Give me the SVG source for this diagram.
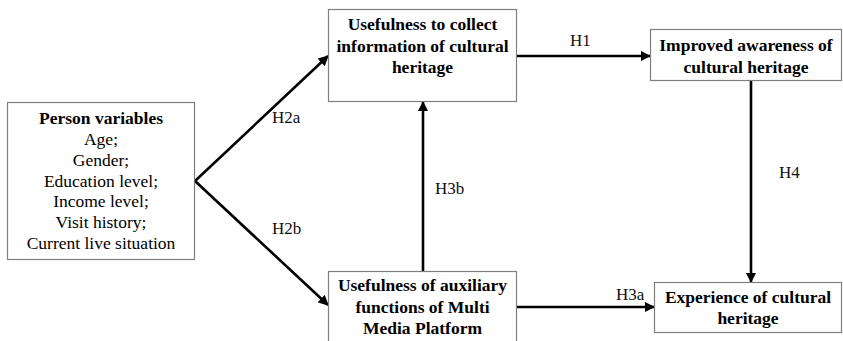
<svg xmlns="http://www.w3.org/2000/svg" width="843" height="341" viewBox="0 0 843 341">
<style>
.box{fill:#fff;stroke:#7f7f7f;stroke-width:1.2}
.t{font-size:17.5px;fill:#000;text-anchor:middle}
.b{font-weight:bold}
.lbl{font-size:17px;fill:#111}
.c{stroke:#000;stroke-width:2.6;fill:none;marker-end:url(#ah)}
</style>
<defs>
<marker id="ah" viewBox="0 0 10 10" refX="9" refY="5" markerWidth="4" markerHeight="4" orient="auto" markerUnits="strokeWidth">
<path d="M0,0 L10,5 L0,10 z" fill="#000"/>
</marker>
</defs>
<rect width="843" height="341" fill="#fff"/>
<g font-family="'Liberation Serif', 'Times New Roman', Times, serif">
<g id="connectors">
<line class="c" x1="195" y1="181" x2="328" y2="56"/>
<line class="c" x1="195" y1="181" x2="328" y2="305"/>
<line class="c" x1="517" y1="56" x2="650" y2="56"/>
<line class="c" x1="423" y1="271" x2="423" y2="102"/>
<line class="c" x1="751" y1="80" x2="751" y2="282"/>
<line class="c" x1="517" y1="307" x2="654" y2="307"/>
<text class="lbl" x="272" y="123">H2a</text>
<text class="lbl" x="272" y="234">H2b</text>
<text class="lbl" x="570" y="46">H1</text>
<text class="lbl" x="435" y="194">H3b</text>
<text class="lbl" x="779" y="178">H4</text>
<text class="lbl" x="616" y="300">H3a</text>
</g>
<g id="person">
<rect class="box" x="7.5" y="102.5" width="187" height="157"/>
<text class="t b" x="101" y="124">Person variables</text>
<text class="t" x="101" y="145">Age;</text>
<text class="t" x="101" y="166">Gender;</text>
<text class="t" x="101" y="187">Education level;</text>
<text class="t" x="101" y="207">Income level;</text>
<text class="t" x="101" y="228">Visit history;</text>
<text class="t" x="101" y="249">Current live situation</text>
</g>
<g id="collect">
<rect class="box" x="328.5" y="9.5" width="188" height="92"/>
<text class="t b" x="422.5" y="30">Usefulness to collect</text>
<text class="t b" x="422.5" y="52">information of cultural</text>
<text class="t b" x="422.5" y="73">heritage</text>
</g>
<g id="auxiliary">
<rect class="box" x="328.5" y="271.5" width="188" height="80"/>
<text class="t b" x="422.5" y="291">Usefulness of auxiliary</text>
<text class="t b" x="422.5" y="313">functions of Multi</text>
<text class="t b" x="422.5" y="334">Media Platform</text>
</g>
<g id="awareness">
<rect class="box" x="650.5" y="29.5" width="191" height="51"/>
<text class="t b" x="746" y="51">Improved awareness of</text>
<text class="t b" x="746" y="73">cultural heritage</text>
</g>
<g id="experience">
<rect class="box" x="654.5" y="282.5" width="187" height="50"/>
<text class="t b" x="748" y="303">Experience of cultural</text>
<text class="t b" x="748" y="324">heritage</text>
</g>
</g>
</svg>
